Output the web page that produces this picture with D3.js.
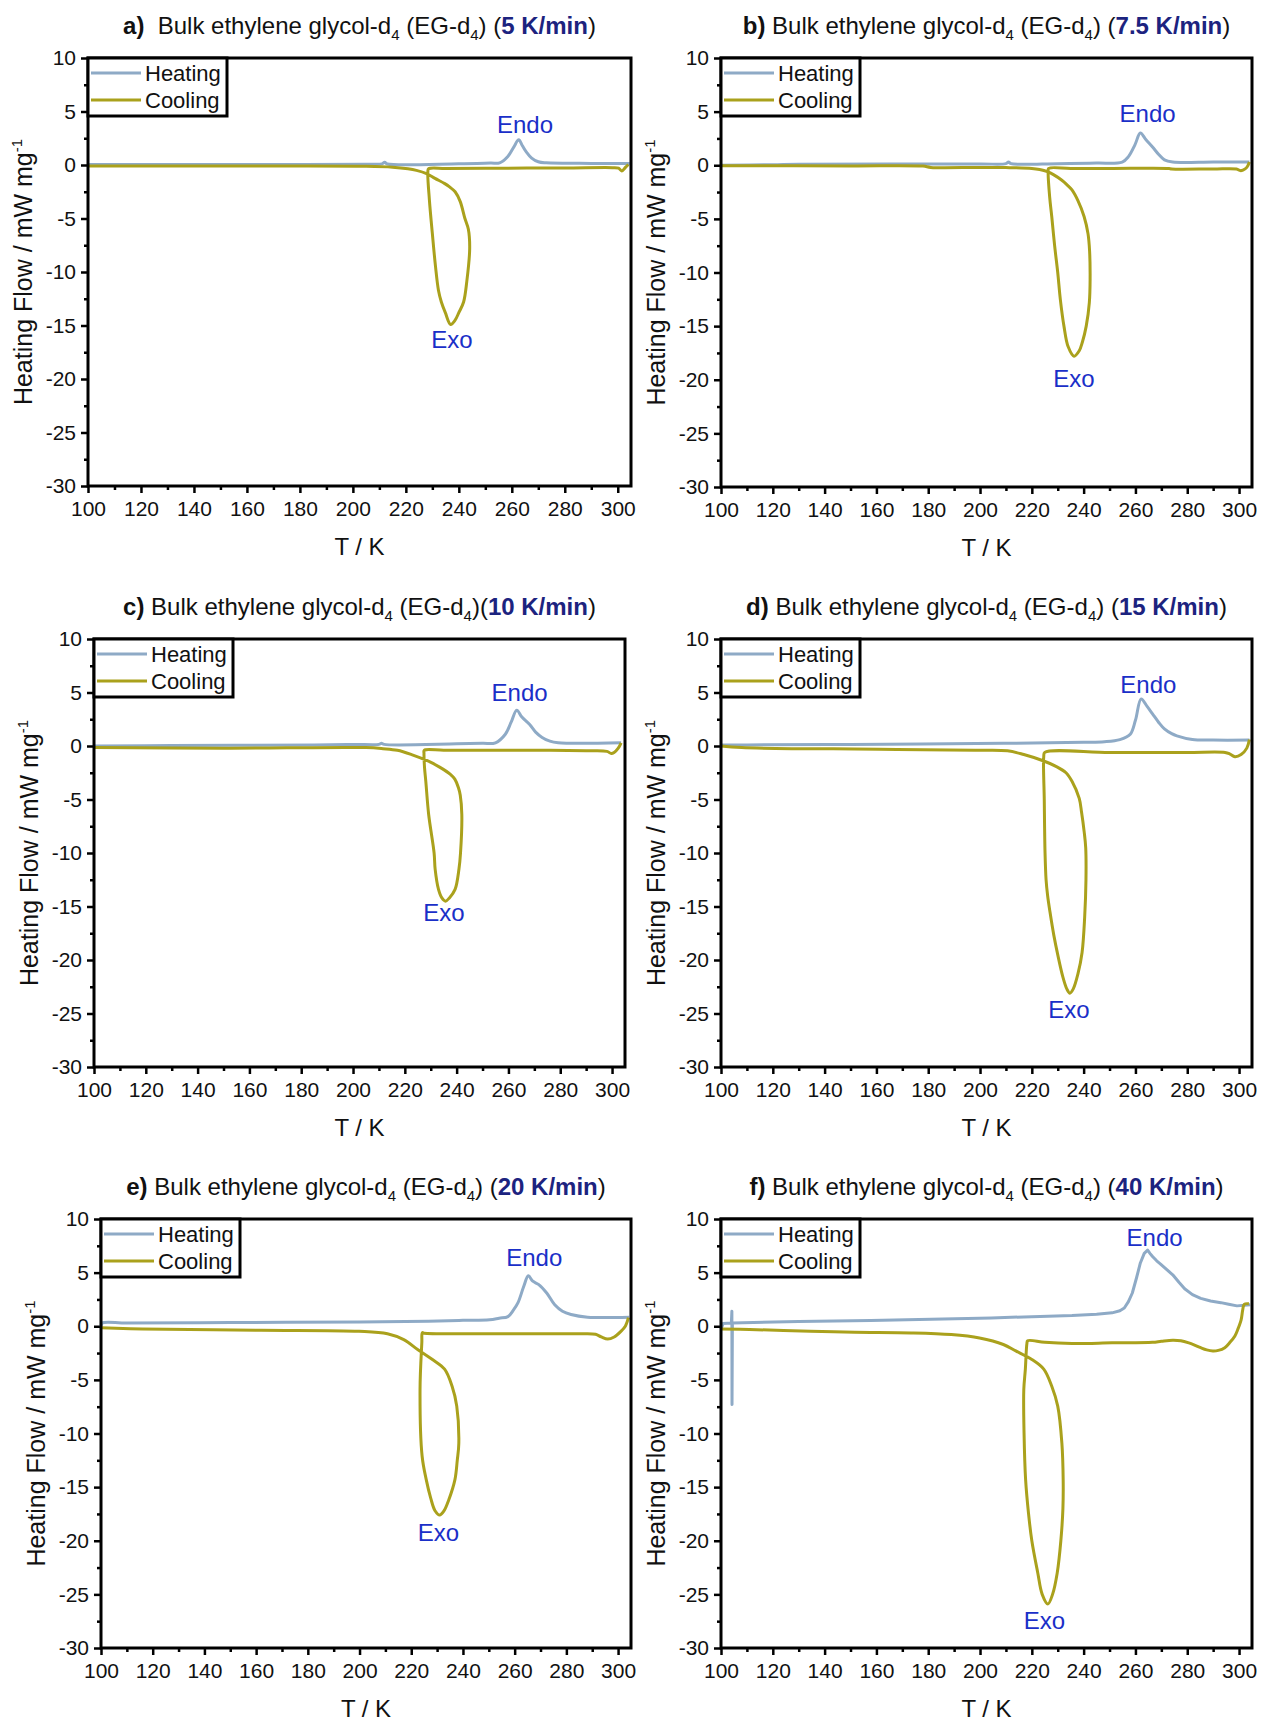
<!DOCTYPE html>
<html>
<head>
<meta charset="utf-8">
<script src="https://cdn.jsdelivr.net/npm/d3@7"></script>
<style>
  body { margin: 0; background: #fff; }
  svg { display: block; }
</style>
</head>
<body>
<svg id="chart" width="1261" height="1722"></svg>
<script>
// tick values
var tempTicks = [100, 120, 140, 160, 180, 200, 220, 240, 260, 280, 300];
var tempMinor = [110, 130, 150, 170, 190, 210, 230, 250, 270, 290];
var flowTicks = [-30, -25, -20, -15, -10, -5, 0, 5, 10];
var flowMinor = [-27.5, -22.5, -17.5, -12.5, -7.5, -2.5, 2.5, 7.5];

var panelLetters = ["a)", "b)", "c)", "d)", "e)", "f)"];
var rateLabels = ["5 K/min", "7.5 K/min", "10 K/min", "15 K/min", "20 K/min", "40 K/min"];

// [T (K), heat flow (mW/mg)]
var heatingA = [[100,0.05],[130,0.05],[170,0.05],[205,0.08],[211,0.1],[212,0.25],[213,0.1],[240,0.12],[252,0.18],[255.4,0.2],[258.5,0.8],[260.8,1.7],[262.6,2.35],[264,1.8],[265.4,1.25],[267.5,0.65],[270,0.3],[273,0.2],[290,0.15],[304.5,0.15]];
var coolingA = [[304,0.05],[303,-0.2],[301.5,-0.55],[300.3,-0.3],[298,-0.25],[280,-0.28],[250,-0.3],[235,-0.32],[228.6,-0.35],[228.3,-0.65],[228.9,-3.3],[230,-6.4],[231.2,-9.5],[232.3,-11.7],[233.4,-12.8],[234.9,-13.8],[236.9,-14.9],[238.6,-14.5],[240,-13.8],[241.8,-12.8],[243,-10.9],[244.1,-7.8],[243.6,-6],[242.3,-5],[240.5,-3.4],[238.6,-2.5],[236.5,-2.05],[234.7,-1.74],[231,-1.25],[227.8,-0.8],[224,-0.5],[220.8,-0.35],[215,-0.2],[205,-0.12],[160,-0.1],[100,-0.1]];

var heatingB = [[100,0.0],[120,0.05],[130,0.1],[200,0.12],[210,0.15],[211,0.3],[212,0.15],[230,0.15],[245,0.2],[254.9,0.3],[257.3,0.8],[259.8,1.9],[261.9,3.0],[264,2.4],[266.6,1.7],[269,1.0],[271.2,0.5],[274.4,0.3],[290,0.3],[304,0.3]];
var coolingB = [[304,0.3],[303,-0.2],[301.5,-0.45],[300.5,-0.5],[299,-0.35],[290,-0.35],[274,-0.35],[273,-0.3],[250,-0.3],[235,-0.3],[226.5,-0.3],[226.3,-0.6],[226.9,-3],[227.7,-4.8],[228.8,-7.5],[230,-10],[231,-12.5],[232.4,-15],[234,-16.9],[236.3,-17.8],[238.3,-17.3],[239.5,-16.5],[241,-15],[242.2,-12.8],[242.5,-10.6],[242.3,-8],[241.7,-6.4],[240.2,-4.8],[237.8,-3.3],[235.5,-2.3],[233.5,-1.8],[231.6,-1.4],[228.5,-0.9],[226,-0.6],[223,-0.4],[220,-0.3],[210,-0.22],[200,-0.2],[181,-0.2],[178,-0.08],[150,-0.06],[100,-0.05]];

var heatingC = [[100,0],[130,0.05],[185,0.1],[200,0.15],[210,0.15],[211,0.25],[212,0.15],[240,0.2],[250,0.25],[255,0.3],[258.8,1.1],[261,2.2],[263.2,3.35],[265.2,2.7],[268.2,2.0],[270.5,1.3],[273,0.8],[276,0.45],[279.2,0.3],[303.5,0.3]];
var coolingC = [[303.5,0.3],[302.4,-0.2],[300.8,-0.6],[299.7,-0.7],[298,-0.5],[290,-0.45],[276,-0.4],[250,-0.4],[235,-0.4],[227.5,-0.4],[227.4,-0.7],[227.6,-2],[228.1,-3.3],[229.2,-6.4],[231.3,-10],[231.7,-11.5],[233,-13.4],[234.3,-14.2],[235.7,-14.5],[237.2,-14.2],[239.4,-13.4],[240.9,-11.5],[241.5,-10],[242,-6.4],[241.4,-4.6],[240.7,-3.9],[239.3,-3.1],[237.6,-2.65],[233.6,-2.0],[228.9,-1.4],[222.6,-0.8],[217.1,-0.4],[211.6,-0.25],[205,-0.15],[150,-0.2],[100,-0.15]];

var heatingD = [[100,0.1],[110,0.1],[150,0.15],[209,0.25],[240,0.35],[248,0.4],[254,0.6],[258,1.1],[260,2.4],[262.2,4.4],[264.5,3.7],[266.6,3.0],[269,2.2],[271.2,1.6],[274,1.15],[276,0.95],[282,0.6],[290,0.55],[304,0.55]];
var coolingD = [[304,0.6],[303,-0.2],[300.8,-0.8],[298.4,-1.0],[296.5,-0.75],[294.6,-0.6],[280,-0.6],[250,-0.6],[225,-0.6],[224.6,-1.0],[224.8,-5],[225.1,-10],[225.5,-12.5],[226.1,-14],[227,-15.5],[228.5,-17.7],[230,-19.5],[232,-21.6],[233.5,-22.7],[234.7,-23.1],[236,-22.7],[237.8,-21.3],[239.4,-19.3],[240.4,-16],[240.9,-12.5],[240.8,-9.5],[240.2,-8],[239.2,-6.2],[238.3,-4.9],[235.5,-3.3],[233.2,-2.5],[229.3,-1.9],[224.6,-1.4],[216.9,-0.8],[210.6,-0.45],[198.2,-0.4],[161,-0.3],[108,-0.15],[100,0]];

var heatingE = [[100,0.0],[100.5,0.3],[110,0.3],[150,0.35],[200,0.4],[226.6,0.47],[240,0.55],[250.3,0.6],[254,0.75],[257.4,0.9],[259.5,1.5],[261.3,2.2],[263.5,3.7],[265.3,4.7],[267,4.2],[269.2,3.9],[272.4,3.1],[275.5,2.0],[278.5,1.4],[281.8,1.1],[288.2,0.85],[304.3,0.85]];
var coolingE = [[304,0.8],[302.8,0.0],[301,-0.5],[298.5,-1.0],[296,-1.2],[293.5,-1.0],[291.3,-0.75],[285,-0.7],[260,-0.7],[240,-0.7],[225,-0.65],[224.3,-0.6],[224.1,-1.5],[223.4,-5.9],[224.2,-12.1],[225.8,-14.3],[227.5,-16],[229.2,-17.2],[231,-17.6],[232.7,-17.2],[234.5,-16.2],[236.9,-14.3],[237.8,-12.5],[238.4,-10.9],[237.6,-7.45],[235.8,-5.6],[232.9,-4.0],[228.2,-3.1],[222.6,-2.2],[217.1,-1.25],[210.8,-0.7],[199.8,-0.47],[161.9,-0.37],[116,-0.25],[100,-0.15]];

var heatingF = [[100,-0.3],[100.8,0.25],[104,0.3],[104.2,1.4],[104.25,-7.3],[104.4,0.3],[130,0.45],[157.8,0.53],[204.4,0.78],[235.5,1.0],[245,1.12],[251,1.25],[254,1.45],[255.7,1.7],[257.3,2.3],[258.8,3.1],[260.4,4.5],[261.9,5.9],[263.4,6.8],[264.7,7.1],[265.6,6.8],[266.6,6.5],[268.2,6.1],[269.7,5.8],[272,5.3],[274.4,4.8],[276.8,4.1],[279,3.5],[282,2.95],[285.2,2.6],[289,2.35],[293,2.2],[296,2.05],[299.2,1.9],[302,1.95],[304.3,2.0]];
var coolingF = [[303.8,2.1],[302,2.05],[301.4,1.5],[300.8,0.6],[299.5,-0.3],[298.4,-0.9],[296.5,-1.5],[294.5,-2.0],[292,-2.25],[289.9,-2.3],[287.5,-2.2],[285.2,-2.0],[282.8,-1.75],[280.6,-1.55],[277.5,-1.35],[274.4,-1.3],[270,-1.4],[266.6,-1.5],[251,-1.55],[235.5,-1.6],[225,-1.5],[218.4,-1.35],[218.1,-1.6],[217.5,-4],[216.9,-5.9],[217,-10],[217.6,-14.3],[218.7,-17.4],[220,-20],[222.3,-23],[224,-25],[226.2,-25.9],[228,-25],[229.8,-23],[231.2,-20],[232,-17],[232.1,-14.3],[231.6,-10.9],[230,-7.45],[227.7,-5.6],[224.6,-4.0],[220,-3.1],[213.8,-2.3],[209,-1.7],[199.8,-1.1],[188.9,-0.78],[173.4,-0.62],[151.6,-0.56],[134.5,-0.47],[111,-0.3],[100,-0.25]];

var heatingSeries = [heatingA, heatingB, heatingC, heatingD, heatingE, heatingF];
var coolingSeries = [coolingA, coolingB, coolingC, coolingD, coolingE, coolingF];

// centre of the Endo / Exo annotations in data units
var endoLabelPos = [[265,3.7],[264.7,4.8],[264.3,5.0],[265,5.7],[267.6,6.4],[267.4,8.2]];
var exoLabelPos = [[237.4,-16.4],[236.3,-19.9],[235.1,-15.6],[234.3,-24.7],[230.5,-19.3],[224.9,-27.5]];

// pixel boxes of the six plot areas
var layout = [
    { left: 88, right: 631, top: 58, bottom: 486 },
    { left: 721, right: 1252, top: 58, bottom: 487 },
    { left: 94, right: 625, top: 639, bottom: 1067 },
    { left: 721, right: 1252, top: 639, bottom: 1067 },
    { left: 101, right: 631, top: 1219, bottom: 1648 },
    { left: 721, right: 1252, top: 1219, bottom: 1648 }
];

var fontFamily = "'Liberation Sans', Arial, sans-serif";
var heatColor = "#8eaac6",
    coolColor = "#aaa11c",
    noteColor = "#1a2fc8",
    rateColor = "#1c237f";

var svg = d3.select("#chart").attr("font-family", fontFamily);

layout.forEach(function(box, i) {
    var x = d3.scaleLinear().domain([100, 305]).range([box.left, box.right]);
    var y = d3.scaleLinear().domain([-30, 10]).range([box.bottom, box.top]);
    var g = svg.append("g");

    // minor ticks first so the major ones sit on top
    g.append("g")
        .attr("transform", "translate(0," + box.bottom + ")")
        .call(d3.axisBottom(x).tickValues(tempMinor).tickSize(4).tickFormat(""));
    g.append("g")
        .attr("transform", "translate(" + box.left + ",0)")
        .call(d3.axisLeft(y).tickValues(flowMinor).tickSize(4).tickFormat(""));

    g.append("g")
        .attr("class", "x-axis")
        .attr("transform", "translate(0," + box.bottom + ")")
        .call(d3.axisBottom(x).tickValues(tempTicks).tickSize(7).tickPadding(8)
            .tickFormat(function(d) { return String(d); }));
    g.append("g")
        .attr("class", "y-axis")
        .attr("transform", "translate(" + box.left + ",0)")
        .call(d3.axisLeft(y).tickValues(flowTicks).tickSize(7).tickPadding(5)
            .tickFormat(function(d) { return String(d); }));

    g.selectAll(".domain").remove();
    g.selectAll(".tick line").attr("stroke", "#000").attr("stroke-width", 2.5);
    g.selectAll(".tick text")
        .attr("fill", "#111")
        .attr("font-family", fontFamily)
        .attr("font-size", 21);

    var smooth = d3.line()
        .x(function(d) { return x(d[0]); })
        .y(function(d) { return y(d[1]); })
        .curve(d3.curveCatmullRom.alpha(0.5));
    // the 40 K/min heating run has a sharp spike, keep it straight
    var straight = d3.line()
        .x(function(d) { return x(d[0]); })
        .y(function(d) { return y(d[1]); });

    g.append("path")
        .datum(heatingSeries[i])
        .attr("fill", "none")
        .attr("stroke", heatColor)
        .attr("stroke-width", 3)
        .attr("stroke-linejoin", "round")
        .attr("d", i === 5 ? straight : smooth);

    g.append("path")
        .datum(coolingSeries[i])
        .attr("fill", "none")
        .attr("stroke", coolColor)
        .attr("stroke-width", 3)
        .attr("stroke-linejoin", "round")
        .attr("d", smooth);

    // plot frame
    g.append("rect")
        .attr("x", box.left)
        .attr("y", box.top)
        .attr("width", box.right - box.left)
        .attr("height", box.bottom - box.top)
        .attr("fill", "none")
        .attr("stroke", "#000")
        .attr("stroke-width", 3);

    // legend
    var lg = g.append("g").attr("transform", "translate(" + box.left + "," + box.top + ")");
    lg.append("rect")
        .attr("x", 0).attr("y", 0)
        .attr("width", 139).attr("height", 58)
        .attr("fill", "#fff")
        .attr("stroke", "#000")
        .attr("stroke-width", 3);
    [["Heating", heatColor, 15], ["Cooling", coolColor, 42]].forEach(function(item) {
        lg.append("line")
            .attr("x1", 3).attr("x2", 53)
            .attr("y1", item[2]).attr("y2", item[2])
            .attr("stroke", item[1])
            .attr("stroke-width", 3);
        lg.append("text")
            .attr("x", 57)
            .attr("y", item[2] + 8)
            .attr("font-size", 22)
            .attr("fill", "#111")
            .text(item[0]);
    });

    // Endo / Exo notes
    g.append("text")
        .attr("x", x(endoLabelPos[i][0]))
        .attr("y", y(endoLabelPos[i][1]) + 8)
        .attr("text-anchor", "middle")
        .attr("fill", noteColor)
        .attr("font-size", 24)
        .text("Endo");
    g.append("text")
        .attr("x", x(exoLabelPos[i][0]))
        .attr("y", y(exoLabelPos[i][1]) + 8)
        .attr("text-anchor", "middle")
        .attr("fill", noteColor)
        .attr("font-size", 24)
        .text("Exo");

    // axis titles
    var midX = (box.left + box.right) / 2;
    g.append("text")
        .attr("x", midX)
        .attr("y", box.bottom + 69)
        .attr("text-anchor", "middle")
        .attr("font-size", 24)
        .attr("fill", "#111")
        .text("T / K");

    var yl = g.append("text")
        .attr("transform", "translate(" + (box.left - 56) + "," + ((box.top + box.bottom) / 2) + ") rotate(-90)")
        .attr("text-anchor", "middle")
        .attr("font-size", 25)
        .attr("fill", "#111");
    yl.append("tspan").text("Heating Flow / mW mg");
    yl.append("tspan").attr("dy", -10).attr("font-size", 15).text("-1");

    // panel title with subscripts
    var t = g.append("text")
        .attr("x", midX)
        .attr("y", box.top - 24)
        .attr("text-anchor", "middle")
        .attr("xml:space", "preserve")
        .attr("font-size", 24)
        .attr("fill", "#111");
    t.append("tspan").attr("font-weight", "bold").text(panelLetters[i]);
    t.append("tspan").text((i === 0 ? "  " : " ") + "Bulk ethylene glycol-d");
    t.append("tspan").attr("dy", 6).attr("font-size", 15).text("4");
    t.append("tspan").attr("dy", -6).text(" (EG-d");
    t.append("tspan").attr("dy", 6).attr("font-size", 15).text("4");
    t.append("tspan").attr("dy", -6).text(i === 2 ? ")(" : ") (");
    t.append("tspan").attr("font-weight", "bold").attr("fill", rateColor).text(rateLabels[i]);
    t.append("tspan").text(")");
});
</script>
</body>
</html>
